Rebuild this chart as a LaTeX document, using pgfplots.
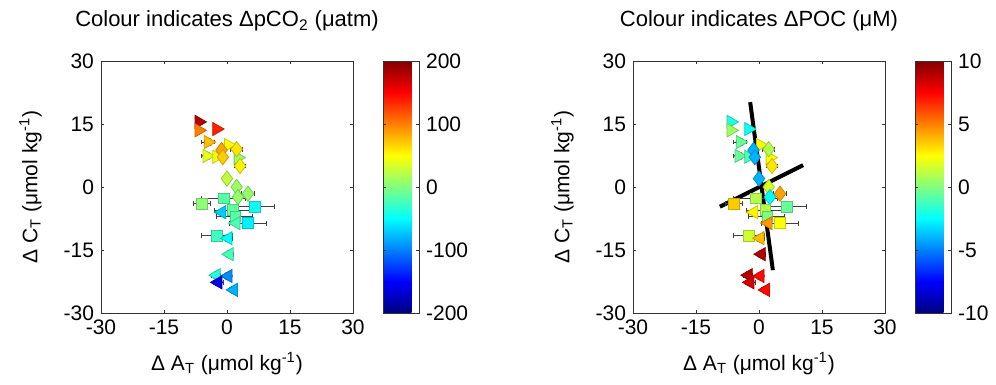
\documentclass[border=0pt]{standalone}
\usepackage{pgfplots}
\pgfplotsset{compat=1.18}
\usepackage{pgfplotstable}
\usepackage{fontspec}
\setmainfont{Liberation Sans}

% columns: x y c1 (dpCO2) c2 (dPOC)
\pgfplotstableread{
x y c1 c2
-6.7 15.5 180 -1.8
-6.7 13.5 100 0.6
-2.5 13.8 137 -2.2
-4.5 10.7 75 -0.5
0.3 10.0 50 2.5
-4.8 7.4 40 -0.5
-2.5 7.2 45 -1.0
2.6 7.0 10 2.5
}\triR
\pgfplotstableread{
x y c1 c2
2.3 9.0 60 1.0
-1.3 8.8 85 -4.0
-1.0 7.1 70 -4.0
3.1 5.0 55 3.0
0.0 2.0 25 -4.0
2.3 0.0 12 1.8
5.0 -1.6 8 4.3
2.6 -2.4 8 -2.5
}\diam
\pgfplotstableread{
x y c1 c2
-0.7 -2.7 -15 1.0
-6.0 -4.0 5 3.5
6.7 -4.7 -45 -0.5
1.5 -5.5 -12 1.0
2.0 -7.0 -15 0.0
5.0 -8.6 -55 2.5
-2.4 -11.6 -25 1.5
}\squ
\pgfplotstableread{
x y c1 c2
-1.2 -6.0 -70 2.7
2.2 -8.6 -20 4.5
0.3 -12.2 -50 3.8
0.6 -16.0 -22 9.0
-2.5 -21.0 -35 9.0
0.3 -21.2 -95 7.3
-2.1 -22.7 -160 8.3
1.6 -24.5 -80 7.3
}\triL
\pgfplotstableread{
x y em ep
-4.5 10.7 1.5 1.5
-4.8 7.4 1.3 1.3
2.3 9.0 1.5 1.5
3.1 5.0 1.3 1.3
5.0 -1.6 1.5 1.5
-0.7 -2.7 5.3 5.0
-6.0 -4.0 2.0 2.0
6.7 -4.7 4.7 4.7
1.5 -5.5 4.5 4.5
2.0 -7.0 4.4 4.0
5.0 -8.6 4.4 4.4
-2.4 -11.6 3.6 3.6
0.3 -12.2 1.0 1.0
0.6 -16.0 1.0 1.0
-2.5 -21.0 1.2 1.0
0.3 -21.2 0.8 0.8
-2.1 -22.7 1.2 1.2
1.6 -24.5 1.0 1.0
}\errs

\pgfplotsset{
  myaxis/.style={
    scale only axis, width=126pt, height=126pt,
    xmin=-30, xmax=30, ymin=-30, ymax=30,
    xtick={-30,-15,0,15,30}, ytick={-30,-15,0,15,30},
    tick align=inside, major tick length=1.5pt,
    axis line style={black!80, line width=0.4pt},
    every tick/.style={black!80, line width=0.4pt},
    /pgf/number format/assume math mode=true,
    tick label style={font=\fontsize{10.5}{12}\selectfont},
    label style={font=\fontsize{10.5}{12}\selectfont},
    xlabel={Δ A\textsubscript{T} (μmol kg\textsuperscript{-1})},
    ylabel={Δ C\textsubscript{T} (μmol kg\textsuperscript{-1})},
    xlabel style={at={(axis description cs:0.5,-0.2)}, anchor=center},
    ylabel style={at={(axis description cs:-0.28,0.5)}, anchor=center},
    title style={at={(axis description cs:0.5,1.11)}, anchor=center, yshift=0pt, font=\fontsize{11}{13}\selectfont},
    colormap/jet,
    colorbar,
    colorbar style={
      at={(parent axis.north east)}, anchor=north west, xshift=6.5pt,
      width=18pt,
      tick align=inside, major tick length=1.5pt,
      axis line style={black!80, line width=0.4pt},
      every tick/.style={black!80, line width=0.4pt},
      /pgf/number format/assume math mode=true,
      yticklabel style={font=\fontsize{10.5}{12}\selectfont},
    },
  },
  errst/.style={only marks, mark=none, forget plot,
    error bars/.cd, x dir=both, x explicit,
    error bar style={black!75, line width=0.5pt},
    error mark=|, error mark options={black!75, mark size=1.2pt, line width=0.5pt}},
  trR/.style={scatter, only marks, point meta=explicit, mark=triangle*, mark size=3.8pt, mark options={rotate=-90}},
  trL/.style={scatter, only marks, point meta=explicit, mark=triangle*, mark size=3.8pt, mark options={rotate=90}},
  dia/.style={scatter, only marks, point meta=explicit, mark=diamond*, mark size=3.8pt},
  sq/.style={scatter, only marks, point meta=explicit, mark=square*, mark size=2.7pt},
}

\begin{document}
\begin{tikzpicture}
\begin{axis}[myaxis, at={(0,0)}, anchor=south west,
  title={Colour indicates ΔpCO\textsubscript{2} (μatm)},
  point meta min=-200, point meta max=200,
  colorbar style={ytick={-200,-100,0,100,200}}]
\addplot[errst] table[x=x, y=y, x error plus=ep, x error minus=em] {\errs};
\addplot[trR] table[x=x, y=y, meta=c1] {\triR};
\addplot[dia] table[x=x, y=y, meta=c1] {\diam};
\addplot[sq] table[x=x, y=y, meta=c1] {\squ};
\addplot[trL] table[x=x, y=y, meta=c1] {\triL};
\end{axis}

\begin{axis}[myaxis, at={(266pt,0)}, anchor=south west,
  title={Colour indicates ΔPOC (μM)},
  point meta min=-10, point meta max=10,
  colorbar style={ytick={-10,-5,0,5,10}}]
\addplot[black, line width=2pt, mark=none, forget plot] coordinates {(-2.1,20.2) (3.3,-19.8)};
\addplot[black, line width=2pt, mark=none, forget plot] coordinates {(-9.3,-4.7) (10.5,5.2)};
\addplot[errst] table[x=x, y=y, x error plus=ep, x error minus=em] {\errs};
\addplot[trR] table[x=x, y=y, meta=c2] {\triR};
\addplot[dia] table[x=x, y=y, meta=c2] {\diam};
\addplot[sq] table[x=x, y=y, meta=c2] {\squ};
\addplot[trL] table[x=x, y=y, meta=c2] {\triL};
\end{axis}
\pgfresetboundingbox
\useasboundingbox (-50.5pt,-36pt) rectangle (447.5pt,156.5pt);
\end{tikzpicture}
\end{document}
